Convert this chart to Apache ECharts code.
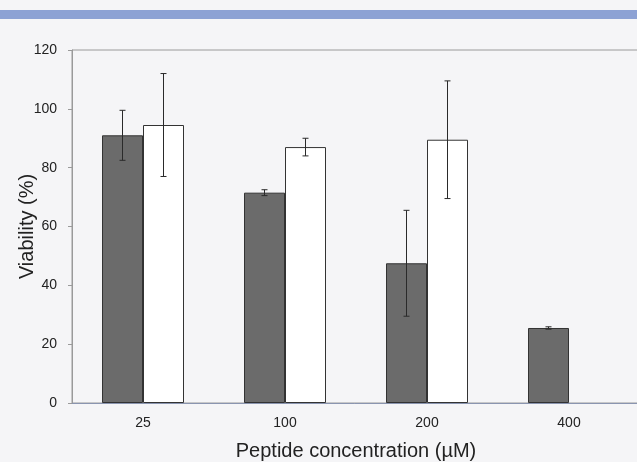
<!DOCTYPE html>
<html>
<head>
<meta charset="utf-8">
<title>Viability</title>
<script src="https://cdn.jsdelivr.net/npm/echarts@6/dist/echarts.min.js"></script>
<style>
  html, body { margin: 0; padding: 0; background: #f5f5f7; }
  #chart { width: 637px; height: 462px; }
</style>
</head>
<body>
<div id="chart"></div>
<script>
// 浓度分类
var concentrations = ['25', '100', '200', '400'];
// 深色柱 (均值 / 误差)
var darkMean = [91, 71.5, 47.5, 25.5];
var darkErr = [8.5, 1, 18, 0.4];
// 白色柱, 400 没有数据
var whiteMean = [94.5, 87, 89.5, null];
var whiteErr = [17.5, 3, 20, null];
var yTicks = [0, 20, 40, 60, 80, 100, 120];

var halfBar = 20.5;

function errData(means, errs) {
    var out = [];
    means.forEach(function (m, i) {
        if (m == null) return;
        out.push([i, m - errs[i], m + errs[i]]);
    });
    return out;
}

function errRender(shift) {
    return function (params, api) {
        var lo = api.coord([api.value(0), api.value(1)]);
        var hi = api.coord([api.value(0), api.value(2)]);
        var x = lo[0] + shift;
        var cap = 3;
        var st = { stroke: '#2a2a2a', lineWidth: 1 };
        return {
            type: 'group',
            children: [
                { type: 'line', shape: { x1: x, y1: hi[1], x2: x, y2: lo[1] }, style: st },
                { type: 'line', shape: { x1: x - cap, y1: hi[1], x2: x + cap, y2: hi[1] }, style: st },
                { type: 'line', shape: { x1: x - cap, y1: lo[1], x2: x + cap, y2: lo[1] }, style: st }
            ]
        };
    };
}

var chart = echarts.init(document.getElementById('chart'));
chart.setOption({
    backgroundColor: '#f5f5f7',
    animation: false,
    textStyle: { fontFamily: 'Liberation Sans, Arial, sans-serif' },
    graphic: [{
        type: 'rect',
        shape: { x: 0, y: 10, width: 637, height: 9 },
        style: { fill: '#8da2d4' }
    }],
    grid: {
        left: 72, top: 50, width: 568, height: 353,
        outerBoundsMode: 'none',
        show: true, borderColor: '#9a9a9a', borderWidth: 1,
        backgroundColor: 'transparent'
    },
    xAxis: {
        type: 'category',
        data: concentrations,
        name: 'Peptide concentration (µM)',
        nameLocation: 'middle',
        nameGap: 38,
        nameMoveOverlap: false,
        nameTextStyle: { fontSize: 20, color: '#222' },
        axisLine: { lineStyle: { color: '#8a95b0', width: 1 } },
        axisTick: { show: false },
        axisLabel: { fontSize: 14, color: '#222', margin: 13 }
    },
    yAxis: {
        type: 'value',
        min: yTicks[0], max: yTicks[yTicks.length - 1], interval: 20,
        name: 'Viability (%)',
        nameLocation: 'middle',
        nameGap: 35,
        nameMoveOverlap: false,
        nameTextStyle: { fontSize: 20, color: '#222' },
        axisLine: { show: true, lineStyle: { color: '#9a9a9a' } },
        axisTick: { show: true, length: 4, lineStyle: { color: '#9a9a9a' } },
        axisLabel: { fontSize: 14, color: '#222', margin: 15 },
        splitLine: { show: false }
    },
    series: [
        {
            type: 'bar', name: 'dark', data: darkMean,
            barWidth: 41, barGap: '0%',
            itemStyle: { color: '#6b6b6b', borderColor: '#333', borderWidth: 1 }
        },
        {
            type: 'bar', name: 'white', data: whiteMean,
            barWidth: 41, barGap: '0%',
            itemStyle: { color: '#ffffff', borderColor: '#333', borderWidth: 1 }
        },
        {
            type: 'custom', name: 'darkErr',
            data: errData(darkMean, darkErr),
            renderItem: errRender(-halfBar), z: 5
        },
        {
            type: 'custom', name: 'whiteErr',
            data: errData(whiteMean, whiteErr),
            renderItem: errRender(halfBar), z: 5
        }
    ]
});
</script>
</body>
</html>
